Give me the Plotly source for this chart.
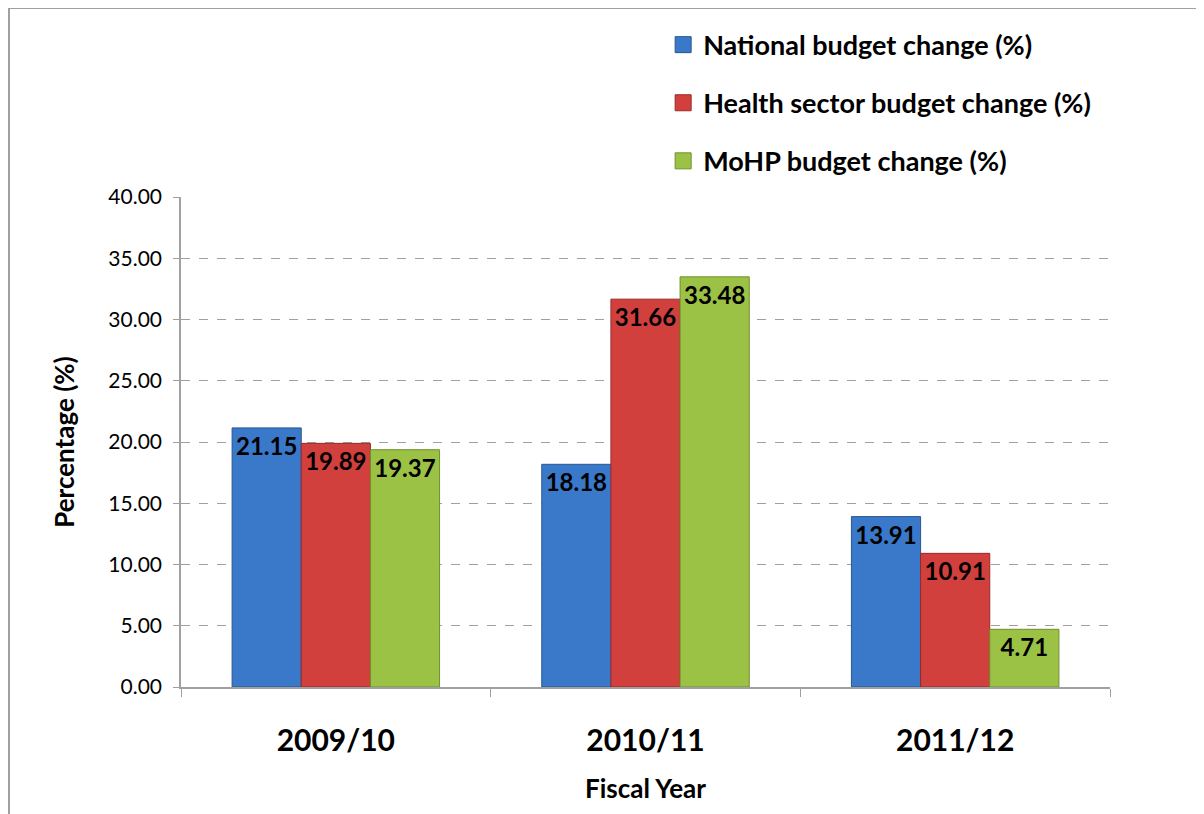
import plotly.graph_objects as go

years = ["2009/10", "2010/11", "2011/12"]
series_names = ["National budget change (%)", "Health sector budget change (%)", "MoHP budget change (%)"]
national = [21.15, 18.18, 13.91]
health = [19.89, 31.66, 10.91]
mohp = [19.37, 33.48, 4.71]
y_ticks = [0, 5, 10, 15, 20, 25, 30, 35, 40]

colors = ["#3a78c9", "#d2403d", "#9cc245"]
edges = ["#28578f", "#962a28", "#6f8e2c"]
FONT = "Lato"

fig = go.Figure()
for name, vals, c, e in zip(series_names, [national, health, mohp], colors, edges):
    fig.add_trace(go.Bar(
        x=years, y=vals, name=name, showlegend=False,
        marker=dict(color=c, line=dict(color=e, width=1)),
        texttemplate="%{y:.2f}", textposition="inside", insidetextanchor="end",
        textangle=0, constraintext="none",
        textfont=dict(family=FONT, size=24, color="black", weight="bold"),
    ))
for i, (name, c, e) in enumerate(zip(series_names, colors, edges)):
    fig.add_trace(go.Scatter(
        x=[None], y=[None], mode="markers", name=name, legendgroup=f"g{i}",
        marker=dict(symbol="square", size=16, color=c, line=dict(color=e, width=1)),
    ))

fig.update_layout(
    width=1204, height=814,
    margin=dict(l=173, r=102, t=189, b=135),
    paper_bgcolor="white", plot_bgcolor="white",
    barmode="group", bargap=0.33, bargroupgap=0,
    font=dict(family=FONT, color="black"),
    legend=dict(x=0.519, y=1.36, xanchor="left", yanchor="top",
                font=dict(family=FONT, size=27, weight="bold"),
                tracegroupgap=20, itemwidth=30, bgcolor="rgba(0,0,0,0)"),
    xaxis=dict(
        tickfont=dict(family=FONT, size=30, weight="bold"),
        title=dict(text="Fiscal Year", font=dict(family=FONT, size=26, weight="bold"), standoff=24),
        showline=True, linecolor="#a0a0a0", linewidth=1.5,
        ticks="outside", tickson="boundaries", ticklen=8, tickcolor="#a0a0a0",
        ticklabelstandoff=26,
    ),
    yaxis=dict(
        range=[0, 40], tickvals=y_ticks, tickformat=".2f",
        tickfont=dict(family=FONT, size=21),
        title=dict(text="Percentage (%)", font=dict(family=FONT, size=26, weight="bold"), standoff=26),
        showline=True, linecolor="#a0a0a0", linewidth=1.5,
        ticks="outside", ticklen=6, tickcolor="#a0a0a0", ticklabelstandoff=7,
        showgrid=True, gridcolor="#a0a0a0", griddash="dash", gridwidth=1,
        zeroline=False,
    ),
)

# outer chart frame (top and left edges), compensating the 8px page margin
x_left = (1 - 173) / 929
y_top = (814 - 135 - 0) / 490
fig.add_shape(type="line", xref="paper", yref="paper",
              x0=x_left, x1=x_left, y0=-135 / 490, y1=y_top,
              line=dict(color="#a0a0a0", width=2))
fig.add_shape(type="line", xref="paper", yref="paper",
              x0=x_left, x1=(1204 - 173) / 929, y0=y_top, y1=y_top,
              line=dict(color="#a0a0a0", width=2))

fig.write_html("out.html")
